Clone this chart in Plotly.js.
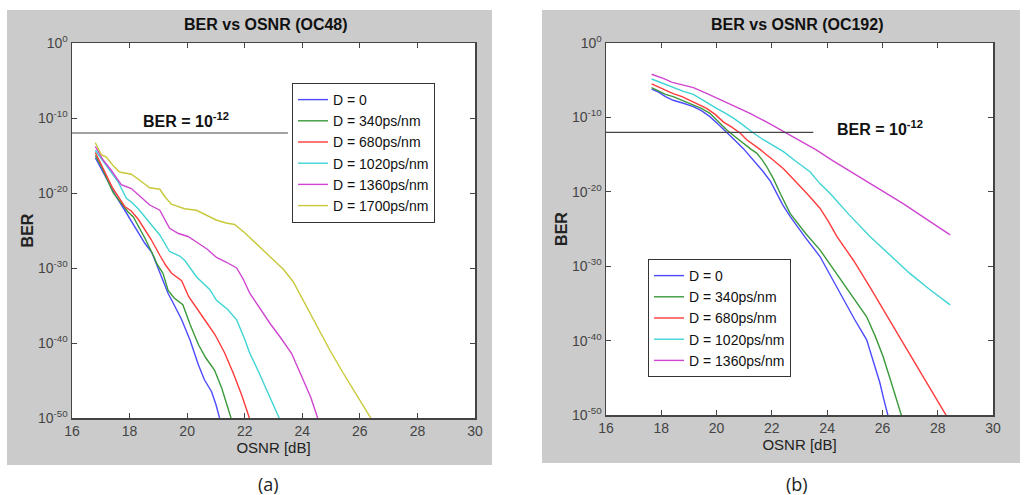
<!DOCTYPE html>
<html>
<head>
<meta charset="utf-8">
<script src="https://cdn.plot.ly/plotly-3.0.1.min.js"></script>
<style>html,body{margin:0;padding:0;background:#fff;}#chart{width:1027px;height:495px;}</style>
</head>
<body>
<div id="chart"></div>
<script>
// ---------- DATA ----------
const legendLabels48 = ["D = 0", "D = 340ps/nm", "D = 680ps/nm", "D = 1020ps/nm", "D = 1360ps/nm", "D = 1700ps/nm"];
const legendLabels192 = ["D = 0", "D = 340ps/nm", "D = 680ps/nm", "D = 1020ps/nm", "D = 1360ps/nm"];
const xTicks = [16, 18, 20, 22, 24, 26, 28, 30];
const yTickExponents = [0, -10, -20, -30, -40, -50];
const berThresholdExp = -12;
const thresholdOsnr = [16, 23.5];

// OC48: OSNR [dB] and log10(BER)
const oc48_D0_osnr = [16.81,17.05,17.3,17.55,17.8,18.01,18.3,18.53,18.77,18.95,19.17,19.34,19.52,19.81,20.1,20.39,20.6,20.85,21.0,21.14];
const oc48_D0_logBer = [-15.3,-17.0,-18.9,-20.6,-22.1,-23.4,-25.2,-26.7,-27.9,-29.6,-31.6,-33.4,-34.7,-36.9,-39.6,-42.9,-44.9,-46.5,-48.2,-50.2];
const oc48_D340_osnr = [16.81,17.05,17.42,17.7,17.94,18.13,18.41,18.53,18.87,18.94,19.16,19.34,19.55,19.85,20.1,20.39,20.65,20.95,21.2,21.54];
const oc48_D340_logBer = [-15.0,-16.7,-19.9,-21.3,-22.5,-23.2,-25.2,-26.0,-28.7,-29.4,-30.7,-33.0,-34.0,-34.9,-37.5,-40.2,-42.0,-43.6,-46.0,-50.2];
const oc48_D680_osnr = [16.81,17.1,17.42,17.83,18.06,18.3,18.58,18.75,19.05,19.25,19.46,19.81,20.05,20.39,20.7,20.97,21.3,21.6,21.9,22.18];
const oc48_D680_logBer = [-14.6,-16.9,-19.4,-21.8,-22.4,-23.5,-25.2,-26.2,-28.3,-29.6,-30.7,-31.7,-33.8,-35.6,-37.4,-38.9,-41.3,-44.0,-47.0,-50.2];
const oc48_D1020_osnr = [16.81,17.0,17.25,17.6,17.89,18.06,18.3,18.58,18.88,19.05,19.39,19.74,19.92,20.33,20.79,21.02,21.4,21.72,22.0,22.18,22.5,22.76,23.0,23.22];
const oc48_D1020_logBer = [-14.3,-15.3,-16.5,-18.5,-20.7,-21.2,-22.1,-23.4,-24.9,-25.6,-27.8,-28.4,-29.0,-31.2,-32.9,-34.3,-35.5,-36.9,-39.5,-41.4,-44.0,-46.3,-48.3,-50.2];
const oc48_D1360_osnr = [16.81,17.08,17.35,17.71,18.06,18.4,18.7,19.05,19.39,19.7,20.03,20.35,20.7,21.02,21.35,21.72,21.95,22.18,22.5,22.88,23.25,23.63,24.03,24.3,24.55];
const oc48_D1360_logBer = [-13.8,-15.6,-16.9,-18.9,-19.4,-20.5,-21.6,-22.3,-24.7,-25.4,-25.8,-26.6,-27.5,-28.6,-29.2,-30.0,-31.5,-33.4,-35.3,-37.4,-39.3,-41.4,-44.9,-47.3,-50.2];
const oc48_D1700_osnr = [16.81,17.02,17.19,17.42,17.65,18.06,18.35,18.7,19.05,19.25,19.45,19.91,20.32,20.65,21.01,21.35,21.65,22.0,22.34,22.7,23.0,23.35,23.68,24.1,24.5,24.95,25.42,25.9,26.41];
const oc48_D1700_logBer = [-13.3,-14.9,-15.2,-16.3,-17.2,-17.5,-18.3,-19.3,-19.5,-20.6,-21.5,-22.1,-22.3,-22.9,-23.6,-24.0,-24.2,-25.3,-26.5,-27.8,-28.9,-30.2,-31.8,-34.8,-37.8,-40.9,-44.0,-47.0,-50.2];

// OC192: OSNR [dB] and log10(BER)
const oc192_D0_osnr = [17.65,17.9,18.15,18.43,18.8,19.16,19.45,19.76,20.05,20.37,20.67,20.97,21.3,21.69,21.95,22.18,22.4,22.66,23.2,23.74,24.15,24.59,25.0,25.43,25.65,25.91,26.05,26.21];
const oc192_D0_logBer = [-6.2,-6.6,-7.2,-7.7,-8.1,-8.55,-9.1,-9.9,-10.9,-12.1,-13.1,-14.2,-15.6,-17.3,-18.6,-20.2,-21.8,-23.3,-26.1,-28.7,-31.5,-34.5,-37.2,-39.9,-42.5,-45.7,-47.9,-50.2];
const oc192_D340_osnr = [17.65,17.9,18.15,18.43,18.8,19.16,19.45,19.76,20.05,20.37,20.67,20.97,21.25,21.45,21.65,21.81,22.05,22.3,22.66,23.2,23.74,24.15,24.59,25.0,25.43,25.75,26.03,26.35,26.7];
const oc192_D340_logBer = [-6.0,-6.4,-6.9,-7.2,-7.8,-8.3,-8.8,-9.45,-10.5,-11.7,-12.6,-13.5,-14.3,-14.8,-15.7,-16.6,-18.2,-20.2,-22.9,-25.5,-27.8,-30.0,-32.3,-34.6,-36.8,-39.5,-42.2,-46.0,-50.2];
const oc192_D680_osnr = [17.65,17.9,18.15,18.43,18.75,19.04,19.35,19.64,19.95,20.24,20.55,20.85,21.09,21.57,22.0,22.42,23.26,23.74,24.05,24.35,24.95,25.55,26.39,27.24,27.8,28.33];
const oc192_D680_logBer = [-5.5,-5.9,-6.4,-6.8,-7.2,-7.7,-8.2,-8.8,-9.6,-10.6,-11.3,-12.1,-13.0,-14.3,-15.6,-16.9,-20.2,-22.2,-24.0,-26.0,-29.2,-32.8,-38.1,-43.5,-46.9,-50.2];
const oc192_D1020_osnr = [17.65,17.9,18.2,18.5,18.8,19.16,19.55,20.0,20.3,20.61,20.95,21.33,21.69,22.05,22.42,22.9,23.38,23.74,24.1,24.8,25.55,26.3,27.0,27.7,28.45];
const oc192_D1020_logBer = [-4.84,-5.2,-5.65,-6.1,-6.5,-6.9,-7.8,-8.8,-9.4,-10.1,-11.0,-12.1,-13.0,-13.8,-14.6,-16.0,-17.3,-18.9,-20.2,-23.1,-26.0,-28.6,-31.0,-33.1,-35.2];
const oc192_D1360_osnr = [17.65,18.07,18.4,18.8,19.16,19.6,20.0,20.6,21.21,21.9,22.54,23.1,23.62,24.2,24.95,25.55,26.16,26.75,27.36,27.9,28.45];
const oc192_D1360_logBer = [-4.2,-4.75,-5.3,-5.7,-6.0,-6.7,-7.4,-8.4,-9.45,-10.8,-12.1,-13.3,-14.4,-15.8,-17.5,-18.9,-20.2,-21.6,-23.1,-24.4,-25.8];

// ---------- STYLE ----------
const colors = ["#4b4bff", "#3a9a3a", "#ff3b3b", "#3fd4d4", "#cf45cf", "#c8c83a"];
const FONT = "Liberation Sans, Arial, sans-serif";
const W = 1027, H = 495;
const px = v => v / W, py = v => 1 - v / H;
const pow10 = arr => arr.map(e => Math.pow(10, e));

const oc48 = [
  [oc48_D0_osnr, oc48_D0_logBer], [oc48_D340_osnr, oc48_D340_logBer], [oc48_D680_osnr, oc48_D680_logBer],
  [oc48_D1020_osnr, oc48_D1020_logBer], [oc48_D1360_osnr, oc48_D1360_logBer], [oc48_D1700_osnr, oc48_D1700_logBer]
];
const oc192 = [
  [oc192_D0_osnr, oc192_D0_logBer], [oc192_D340_osnr, oc192_D340_logBer], [oc192_D680_osnr, oc192_D680_logBer],
  [oc192_D1020_osnr, oc192_D1020_logBer], [oc192_D1360_osnr, oc192_D1360_logBer]
];

const traces = [];
oc48.forEach((s, i) => traces.push({
  type: 'scatter', mode: 'lines', x: s[0], y: pow10(s[1]), name: legendLabels48[i],
  xaxis: 'x', yaxis: 'y', legend: 'legend', line: {color: colors[i], width: 1.4}
}));
traces.push({type: 'scatter', mode: 'lines', x: thresholdOsnr, y: pow10([berThresholdExp, berThresholdExp]),
  xaxis: 'x', yaxis: 'y', showlegend: false, line: {color: '#444', width: 1.2}, hoverinfo: 'skip'});
oc192.forEach((s, i) => traces.push({
  type: 'scatter', mode: 'lines', x: s[0], y: pow10(s[1]), name: legendLabels192[i],
  xaxis: 'x2', yaxis: 'y2', legend: 'legend2', line: {color: colors[i], width: 1.4}
}));
traces.push({type: 'scatter', mode: 'lines', x: thresholdOsnr, y: pow10([berThresholdExp, berThresholdExp]),
  xaxis: 'x2', yaxis: 'y2', showlegend: false, line: {color: '#444', width: 1.2}, hoverinfo: 'skip'});

const yTickVals = yTickExponents.map(e => Math.pow(10, e));
const yTickText = yTickExponents.map(e => '10<sup>' + e + '</sup>');

function xAxis(domain, anchor) {
  return {domain: domain, anchor: anchor, range: [16, 30], tickmode: 'linear', tick0: xTicks[0], dtick: xTicks[1] - xTicks[0],
    ticks: 'inside', ticklen: 5, tickcolor: '#444', mirror: 'ticks', showline: true, linecolor: '#444', linewidth: 1.5,
    showgrid: false, zeroline: false, tickfont: {family: FONT, size: 14, color: '#444'},
    title: {text: 'OSNR [dB]', font: {family: FONT, size: 15, color: '#222'}, standoff: 3}};
}
function yAxis(domain, anchor) {
  return {domain: domain, anchor: anchor, type: 'log', range: [-50, 0], tickmode: 'array', tickvals: yTickVals, ticktext: yTickText,
    ticks: 'inside', ticklen: 5, tickcolor: '#444', mirror: 'ticks', showline: true, linecolor: '#444', linewidth: 1.5,
    showgrid: false, zeroline: false, tickfont: {family: FONT, size: 14, color: '#444'},
    title: {text: '<b>BER</b>', font: {family: FONT, size: 16, color: '#222'}, standoff: 0}};
}

const legendBase = {bordercolor: '#333', borderwidth: 1, bgcolor: '#fff', xanchor: 'left', yanchor: 'top',
  font: {family: FONT, size: 14, color: '#111'}, itemwidth: 30, tracegroupgap: 0};

const layout = {
  width: W, height: H, margin: {l: 0, r: 0, t: 0, b: 0},
  paper_bgcolor: '#fff', plot_bgcolor: '#fff', showlegend: true,
  font: {family: FONT},
  xaxis: xAxis([px(72), px(475)], 'y'),
  yaxis: yAxis([py(418), py(43)], 'x'),
  xaxis2: xAxis([px(606), px(993)], 'y2'),
  yaxis2: yAxis([py(415), py(43)], 'x2'),
  legend: Object.assign({}, legendBase, {x: px(292), y: py(83)}),
  legend2: Object.assign({}, legendBase, {x: px(648), y: py(259)}),
  shapes: [
    {type: 'rect', xref: 'paper', yref: 'paper', x0: px(7), x1: px(492), y0: py(465), y1: py(10), fillcolor: '#cbcbcb', line: {width: 0}, layer: 'below'},
    {type: 'rect', xref: 'paper', yref: 'paper', x0: px(542), x1: px(1020), y0: py(463), y1: py(10), fillcolor: '#cbcbcb', line: {width: 0}, layer: 'below'},
    {type: 'rect', xref: 'paper', yref: 'paper', x0: px(72), x1: px(475), y0: py(418), y1: py(43), fillcolor: '#ffffff', line: {width: 0}, layer: 'below'},
    {type: 'rect', xref: 'paper', yref: 'paper', x0: px(606), x1: px(993), y0: py(415), y1: py(43), fillcolor: '#ffffff', line: {width: 0}, layer: 'below'}
  ],
  annotations: [
    {text: '<b>BER vs OSNR (OC48)</b>', xref: 'paper', yref: 'paper', x: px(266), y: py(25), showarrow: false,
      xanchor: 'center', yanchor: 'middle', font: {family: FONT, size: 16, color: '#111'}},
    {text: '<b>BER vs OSNR (OC192)</b>', xref: 'paper', yref: 'paper', x: px(797), y: py(25), showarrow: false,
      xanchor: 'center', yanchor: 'middle', font: {family: FONT, size: 16, color: '#111'}},
    {text: '<b>BER = 10<sup>-12</sup></b>', xref: 'x', yref: 'y', x: 19.96, y: -10.3, showarrow: false,
      xanchor: 'center', yanchor: 'middle', font: {family: FONT, size: 16, color: '#111'}},
    {text: '<b>BER = 10<sup>-12</sup></b>', xref: 'x2', yref: 'y2', x: 25.9, y: -11.4, showarrow: false,
      xanchor: 'center', yanchor: 'middle', font: {family: FONT, size: 16, color: '#111'}},
    {text: '(a)', xref: 'paper', yref: 'paper', x: px(268), y: py(484), showarrow: false,
      xanchor: 'center', yanchor: 'middle', font: {family: "Open Sans, sans-serif", size: 18, color: '#222'}},
    {text: '(b)', xref: 'paper', yref: 'paper', x: px(797), y: py(484), showarrow: false,
      xanchor: 'center', yanchor: 'middle', font: {family: "Open Sans, sans-serif", size: 18, color: '#222'}}
  ]
};

Plotly.newPlot('chart', traces, layout, {displayModeBar: false, staticPlot: true});
</script>
</body>
</html>
